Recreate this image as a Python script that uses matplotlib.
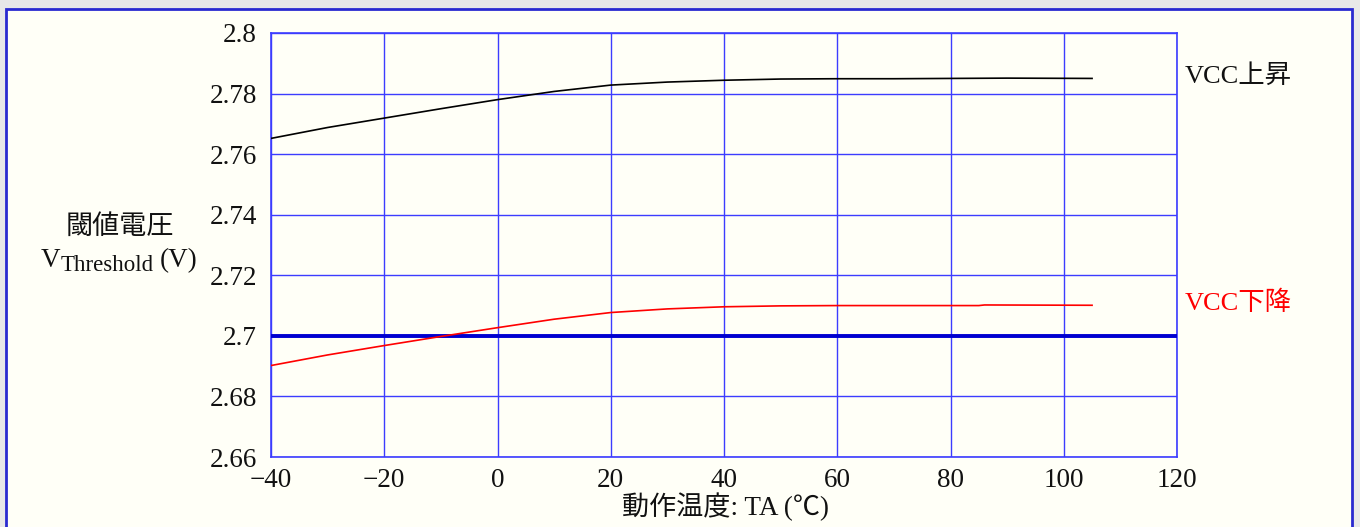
import matplotlib
matplotlib.use("Agg")
import matplotlib.pyplot as plt
from matplotlib.patches import Rectangle

# Data
temp_up = [-40, -30, -20, -10, 0, 10, 20, 30, 40, 50, 60, 70, 80, 90, 105]
vcc_up = [2.7652, 2.7688, 2.7719, 2.7750, 2.7780, 2.7807, 2.7828, 2.7838, 2.7844, 2.7848, 2.7849, 2.7849, 2.7850, 2.7851, 2.7850]
temp_down = [-40, -30, -20, -10, 0, 10, 20, 30, 40, 50, 60, 70, 80, 85, 86, 105]
vcc_down = [2.6902, 2.6937, 2.6968, 2.6998, 2.7027, 2.7055, 2.7077, 2.7089, 2.7096, 2.7099, 2.7100, 2.7100, 2.7100, 2.7100, 2.7102, 2.7101]
threshold = 2.70
xticks = [-40, -20, 0, 20, 40, 60, 80, 100, 120]
yticks = [2.66, 2.68, 2.70, 2.72, 2.74, 2.76, 2.78, 2.80]
ytick_labels = ["2.66", "2.68", "2.7", "2.72", "2.74", "2.76", "2.78", "2.8"]
xtick_labels = ["\u221240", "\u221220", "0", "20", "40", "60", "80", "100", "120"]

serif = ["Liberation Serif", "Noto Sans CJK JP", "DejaVu Serif"]
plt.rcParams["font.family"] = serif

W, H = 1360, 527
fig = plt.figure(figsize=(W / 100, H / 100), dpi=100)
fig.patch.set_facecolor("#e8e8e8")

# cream panel with blue frame
panel = Rectangle((6 / W, -0.01), (1352 - 6) / W, (H - 9) / H + 0.01,
                  transform=fig.transFigure, facecolor="#fffff7",
                  edgecolor="#2a2ad0", linewidth=2, zorder=-10)
fig.patches.append(panel)

ax = fig.add_axes([271 / W, 1 - 457 / H, (1177 - 271) / W, (457 - 33) / H])
ax.set_zorder(1)
ax.set_facecolor("#fffff7")
ax.set_xlim(-40, 120)
ax.set_ylim(2.66, 2.80)

ax.set_xticks(xticks)
ax.set_xticklabels(xtick_labels)
ax.set_yticks(yticks)
ax.set_yticklabels(ytick_labels)
ax.tick_params(axis="both", length=0, labelsize=19.5, colors="#111111")
ax.tick_params(axis="y", pad=10)
ax.tick_params(axis="x", pad=8)
for lab in ax.get_xticklabels() + ax.get_yticklabels():
    lab.set_family(serif)

ax.grid(True, color="#3c3cff", linewidth=1.0)
ax.set_axisbelow(True)
for sp in ax.spines.values():
    sp.set_color("#3c3cff")
    sp.set_linewidth(1.2)

ax.axhline(threshold, color="#0000d0", linewidth=2.8, zorder=3)
ax.plot(temp_up, vcc_up, color="black", linewidth=1.2, zorder=4)
ax.plot(temp_down, vcc_down, color="#ff0000", linewidth=1.2, zorder=4)

fig.text(1185 / W, 1 - 76 / H, "VCC上昇", color="#111111", fontsize=19,
         ha="left", va="center", family=serif)
fig.text(1185 / W, 1 - 303 / H, "VCC下降", color="#ff0000", fontsize=19,
         ha="left", va="center", family=serif)

fig.text(120 / W, 1 - 227 / H, "閾値電圧", fontsize=19.5, ha="center", va="center",
         color="#111111", family=serif)
fig.text(41 / W, 1 - 267 / H, "V", fontsize=19.5, ha="left", va="baseline",
         color="#111111", family=serif)
fig.text(61 / W, 1 - 271 / H, "Threshold", fontsize=16.5, ha="left",
         va="baseline", color="#111111", family=serif)
fig.text(197 / W, 1 - 267 / H, "(V)", fontsize=19.5, ha="right", va="baseline",
         color="#111111", family=serif)

fig.text(725 / W, 1 - 507 / H, "動作温度: TA (℃)", fontsize=19.5, ha="center",
         va="center", color="#111111", family=serif)

fig.savefig("out.png", dpi=100, facecolor=fig.get_facecolor())
